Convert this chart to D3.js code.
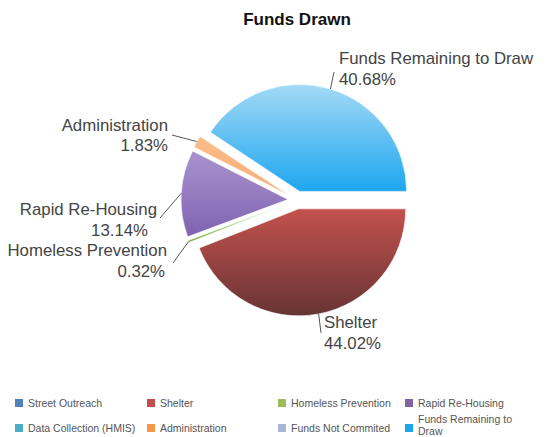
<!DOCTYPE html>
<meta charset="utf-8">
<style>
  body { margin: 0; background: #fff; }
  text { font-family: "Liberation Sans", Arial, sans-serif; }
</style>
<script src="https://d3js.org/d3.v7.min.js"></script>
<svg id="chart" width="560" height="437"></svg>
<script>
// values (percent of funds)
const categories = ["Street Outreach", "Shelter", "Homeless Prevention", "Rapid Re-Housing",
  "Data Collection (HMIS)", "Administration", "Funds Not Commited", "Funds Remaining to Draw"];
const values = [0, 44.02, 0.32, 13.14, 0, 1.83, 0, 40.68];
const legendColors = ["#4f81bd", "#c0504d", "#9bbb59", "#8064a2", "#4bacc6", "#f79646", "#a5b6d8", "#1fa5ee"];
// top / middle / bottom shades of the slices
const sliceShades = {
  "Shelter": ["#e07a72", "#c4514d", "#663434"],
  "Homeless Prevention": ["#a6d676", "#8cc04f", "#6f9e3c"],
  "Rapid Re-Housing": ["#c4b3e0", "#9278bf", "#56398f"],
  "Administration": ["#fcc89c", "#f8ae74", "#ef9448"],
  "Funds Remaining to Draw": ["#a3daf6", "#1ea6ef", "#1ea6ef"]
};

const svg = d3.select("#chart");
const cx = 297, cy = 200, r = 107, explode = 9;

svg.append("text")
  .attr("x", 297).attr("y", 25)
  .attr("text-anchor", "middle")
  .style("font-size", "17px").style("font-weight", "bold")
  .attr("fill", "#111")
  .text("Funds Drawn");

const data = categories.map((c, i) => ({ name: c, value: values[i], color: legendColors[i] }));

const pie = d3.pie().sort(null).value(d => d.value)
  .startAngle(Math.PI / 2).endAngle(Math.PI / 2 + 2 * Math.PI);
const arc = d3.arc().innerRadius(0).outerRadius(r);
const arcs = pie(data).filter(d => d.data.value > 0);

const defs = svg.append("defs");
arcs.forEach((d, i) => {
  const s = sliceShades[d.data.name];
  const g = defs.append("linearGradient")
    .attr("id", "grad" + i)
    .attr("gradientUnits", "userSpaceOnUse")
    .attr("x1", 0).attr("y1", -r).attr("x2", 0).attr("y2", r);
  g.append("stop").attr("offset", "0%").attr("stop-color", s[0]);
  g.append("stop").attr("offset", "50%").attr("stop-color", s[1]);
  g.append("stop").attr("offset", "100%").attr("stop-color", s[2]);
});

function mid(d) { return (d.startAngle + d.endAngle) / 2; }

const pieG = svg.append("g").attr("transform", `translate(${cx},${cy})`);
pieG.selectAll("path")
  .data(arcs)
  .join("path")
  .attr("transform", d => {
    const a = mid(d);
    return `translate(${Math.sin(a) * explode},${-Math.cos(a) * explode})`;
  })
  .attr("d", arc)
  .attr("fill", (d, i) => `url(#grad${i})`)
  .attr("stroke", "#fff")
  .attr("stroke-width", 0.6);

// label placement: line ends and text anchors
const labelLayout = {
  "Funds Remaining to Draw": { end: [334, 72], x: [339, 339], y: [64, 85], anchor: "start" },
  "Administration": { end: [172, 135], x: [168, 168], y: [131, 151], anchor: "end" },
  "Rapid Re-Housing": { end: [160, 218], x: [157, 148], y: [215, 236], anchor: "end" },
  "Homeless Prevention": { end: [173, 263], x: [167, 165], y: [256, 277], anchor: "end" },
  "Shelter": { end: [321, 333], x: [324, 324], y: [328, 349], anchor: "start" }
};

const labels = svg.append("g");
arcs.forEach(d => {
  const L = labelLayout[d.data.name];
  const a = mid(d);
  const rr = r + explode;
  labels.append("line")
    .attr("x1", cx + Math.sin(a) * rr).attr("y1", cy - Math.cos(a) * rr)
    .attr("x2", L.end[0]).attr("y2", L.end[1])
    .attr("stroke", "#555").attr("stroke-width", 1);
  [d.data.name, d3.format(".2f")(d.data.value) + "%"].forEach((t, k) => {
    labels.append("text")
      .attr("transform", `translate(${L.x[k]},${L.y[k]}) scale(1.05,1)`)
      .attr("text-anchor", L.anchor)
      .style("font-size", "16px")
      .attr("fill", "#444")
      .text(t);
  });
});

// legend
const legX = [15, 147, 278, 405];
const legY = [403, 428];
const legend = svg.append("g");
data.forEach((d, i) => {
  const x = legX[i % 4], y = legY[Math.floor(i / 4)];
  legend.append("rect")
    .attr("x", x).attr("y", y - 4)
    .attr("width", 8).attr("height", 8)
    .attr("fill", d.color);
  if (d.name === "Funds Remaining to Draw") {
    legend.append("text").attr("x", x + 13).attr("y", y - 5)
      .style("font-size", "10.5px").attr("fill", "#555").text("Funds Remaining to");
    legend.append("text").attr("x", x + 13).attr("y", y + 7)
      .style("font-size", "10.5px").attr("fill", "#555").text("Draw");
  } else {
    legend.append("text").attr("x", x + 13).attr("y", y + 4)
      .style("font-size", "10.5px").attr("fill", "#555").text(d.name);
  }
});
</script>
